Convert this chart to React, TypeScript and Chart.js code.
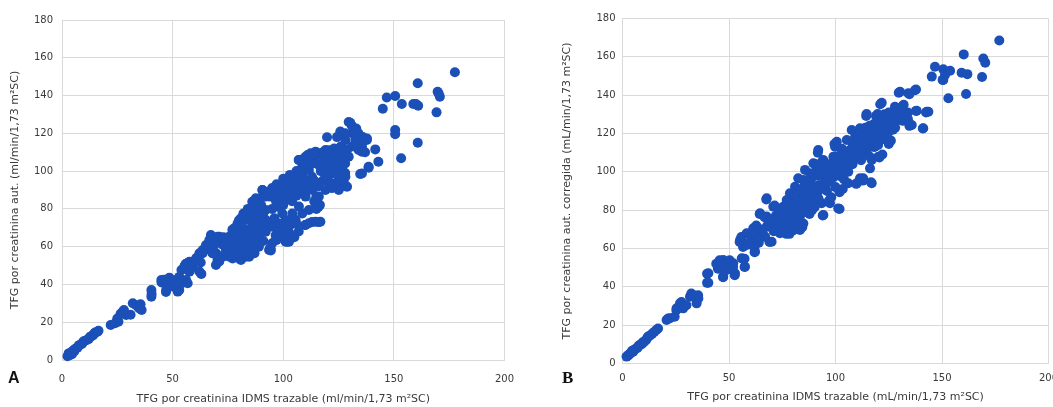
import React, { useEffect, useRef } from "react";
import { Chart, registerables } from "chart.js";

Chart.register(...registerables);

// ---------- DATA ----------
const xTickValues = [0, 50, 100, 150, 200];
const yTickValues = [0, 20, 40, 60, 80, 100, 120, 140, 160, 180];

const titleXA = "TFG por creatinina IDMS trazable (ml/min/1,73 m²SC)";
const titleYA = "TFG por creatinina aut. (ml/min/1,73 m²SC)";
const titleXB = "TFG por creatinina IDMS trazable (mL/min/1,73 m²SC)";
const titleYB = "TFG por creatinina aut. corregida (mL/min/1,73 m²SC)";

// Panel A: x = TFG IDMS trazable, y = TFG creatinina aut.
const xA = [
  2.5, 3, 3.5, 4, 4.5, 5, 5.5, 6, 7, 7.5, 8, 9, 9.5, 10, 11, 12, 12.5, 13, 14, 14.5, 15, 16, 16.5,
  22, 24, 25.5, 26.5, 27.5, 29, 31, 25, 28,
  32, 33.5, 35, 36, 34.5, 35.5,
  40.4, 40.4, 40.5,
  45, 46, 47.5, 47, 49.5, 51.5, 53, 54, 53, 51, 48.5,
  44.9, 47.1, 48.6, 51.6, 53.1, 56.1, 47.1, 52.3, 56.8, 55.3, 57.6, 59.1, 57.6, 60.6, 62.1, 62.8,
  56, 54, 55.5, 57, 59, 60.7, 62, 62.7, 62, 63,
  63.6, 65.1, 67.3, 71.1, 72.6, 69.6, 68.1, 70.3, 69.6, 74.1, 77.1, 80.9, 84.6, 77.1, 80.1, 83.1,
  86.1, 84.6, 85.3, 82.4,
  66, 69.7, 71, 67.4, 72.7, 75.7, 78.6, 80,
  107.1, 110.1, 112.35, 114.6, 116.85, 119.1, 122.1, 125.1, 126.6, 128.1, 131.1, 133.35, 135.6,
  137.85, 132.6, 134.1, 135.6, 128.1, 125.1, 122.1, 116.1, 113.1, 111.6, 108.6, 105.6, 102.6,
  99.6, 98.1, 95.1, 92.1, 90.6, 88.35, 86.85, 84.6, 83.1, 80.85, 79.35, 77.85, 77.1, 75.6, 74.85,
  74.1, 72.6, 71.1, 68.1, 65.1, 63.6, 66.6, 70.35, 68.85, 73.35, 78.6, 81.6, 84.6, 83.1, 80.1,
  77.1, 86.1, 89.1, 92.1, 95.1, 98.1, 101.1, 104.1, 107.1, 110.1, 113.1, 116.1, 119.1, 122.1,
  125.1, 128.1, 128.85, 125.1, 122.1, 119.1, 116.1, 114.6, 111.6, 108.6, 105.6, 102.6, 99.6,
  96.6, 101.1, 93.6, 98.1, 101.1, 104.1, 107.1, 110.1, 92.1, 89.1, 86.1, 83.1, 96.6, 99.6,
  102.6, 105.6, 108.6, 92.1, 89.1, 86.1, 80.1,
  77, 80, 82, 84, 86, 87.6, 90.6, 92, 94, 83, 86, 89, 84.6, 87, 84, 89, 92, 94.4, 95, 97, 98,
  101, 102, 102.6, 99.6, 98, 96.6, 98.9, 101, 102.6, 105, 107, 108.6, 110, 108, 111, 114, 116,
  118, 120.6, 123, 125, 126, 126.6, 128, 128, 125, 122, 120.6, 118, 116, 115, 116.6, 116, 113,
  110, 102.6, 96.6, 94,
  117, 119, 121, 113, 114, 115, 104, 106, 103,
  119.8, 130.3, 129.6, 131, 133, 134, 136, 137.8, 135.6, 137, 132.6, 131, 128, 125.8, 124.3, 126,
  128.8, 129.6, 128,
  141.6, 143, 138.6, 134.8, 116, 114.6, 111.6, 110, 116.8, 101.8, 94.3, 90.6, 107, 128, 125, 122,
  177.6, 160.8, 169.8, 170.8, 170.3, 169.3, 158.8, 161, 160, 153.6, 150.6, 146.8, 145, 150.6,
  150.6, 160.8, 153.3, 138.6, 135.6,
  95, 97, 100, 103, 105, 108, 111, 113, 100, 104, 106, 109, 112, 114, 117, 119, 121, 123, 124,
  122, 118, 112, 109, 106, 103, 100, 97, 95, 93, 90, 88, 86, 91, 93, 96, 99, 105, 107, 100, 91,
  89, 87, 80, 76, 73, 78, 82, 85, 88, 81, 79, 90,
];
const yA = [
  2, 3.5, 2.5, 4, 3, 5, 4.5, 6, 6.5, 7.5, 8, 8.5, 9.5, 10, 10.5, 11, 12, 12.5, 13, 14, 14.5, 15, 15.5,
  18.5, 19.5, 20.3, 24.5, 25.6, 23.8, 24, 22, 26.5,
  30, 29, 27.3, 26.5, 28, 29.5,
  37, 33.5, 35,
  41, 42.5, 41, 36, 39, 41, 44, 40.5, 37, 38.5, 43.5,
  42.4, 40.6, 43.3, 42.4, 41.4, 42.4, 37.1, 36.2, 40.6, 49.4, 46.7, 49.4, 52, 52.9, 56.5, 45.8,
  51, 47.6, 50, 51.5, 52, 54, 55, 51.6, 47, 45.5,
  58.2, 60.9, 66.2, 65.3, 61.8, 61.8, 56.5, 52.9, 50.3, 56.5, 54.7, 52.9, 54.7, 61.8, 67.1, 74.1,
  79.4, 68.8, 60, 57.3,
  59, 56.5, 53, 58, 61, 54.7, 58, 61.8,
  105.9, 107.6, 109.4, 110.3, 109.4, 111.2, 109.4, 111.2, 112.9, 116.5, 120, 118.2, 116.5,
  117.3, 112.9, 111.2, 110.3, 107.6, 105.9, 104.1, 103.2, 104.1, 100.6, 98.8, 96.2, 95.3,
  93.5, 91.7, 90, 88.2, 86.5, 83.8, 82.1, 79.4, 77.6, 75, 72.3, 69.7, 67, 65.3, 61.8,
  58.2, 54.7, 52.1, 56.5, 60, 56.5, 63.5, 65.3, 60.9, 63.5, 61.8, 60, 58.2, 54.7, 53.8,
  53.8, 62.6, 65.3, 67.9, 70.6, 72.3, 74.1, 77.6, 81.2, 86.5, 90, 93.5, 97, 98.8,
  99.7, 97, 91.7, 90, 93.5, 90, 86.5, 82.9, 79.4, 77.6, 74.1, 70.6, 67,
  63.5, 62.6, 58.2, 81.2, 84.7, 88.2, 91.7, 94.4, 79.4, 75.9, 72.3, 68.8, 88.2, 88.2,
  91.7, 97, 102.3, 74.1, 70.6, 67, 66.2,
  69, 74, 77.6, 80, 83.8, 85.6, 90, 86.5, 86.5, 67, 70.6, 72, 59, 56.5, 55, 67, 69, 58, 61.8, 63.5, 67,
  63.5, 69, 72, 77.6, 81, 84.7, 89, 91.8, 94.4, 95, 97, 98.8, 101.5, 106, 108.5, 107.6, 109,
  110, 111, 112, 110, 106, 102, 99, 92, 91, 91, 94.4, 95, 92, 86.5, 82, 73, 73,
  71.5, 62.6, 66, 59,
  104, 106, 103, 104, 84, 80, 75, 72, 67,
  117.9, 125.6, 126, 124, 122.6, 120, 118, 116.5, 113, 110, 116.5, 113, 120, 121, 118, 113,
  111, 107.6, 104,
  111.5, 105, 102.3, 98.5, 81.2, 73.2, 72.4, 71.5, 73.2, 62.6, 59.1, 90, 105.9, 92.6, 95.3, 91.7,
  152.3, 146.5, 142, 139.4, 141, 131.1, 135.5, 134.6, 135.5, 135.5, 139.8, 139, 133, 121.8,
  119.5, 115, 106.8, 101.8, 98.8,
  80, 83, 86, 88, 90, 93, 95, 97, 82, 84, 87, 89, 92, 95, 100, 100, 100, 102, 105,
  106, 108, 105, 103, 100, 98, 96, 93, 91, 89, 82, 78, 75, 76, 73, 75, 71, 65, 68, 66, 63,
  60, 62, 57, 60, 65, 65, 63, 65, 69, 71, 69, 79,
];

// Panel B: x = TFG IDMS trazable, y = TFG creatinina aut. corregida
const xB = [
  1.9, 2.5, 3, 3.5, 4, 5, 5.5, 6, 7, 7.5, 8, 9, 10, 11, 11.5, 12, 13, 14, 15, 16, 16.7, 4.5, 9.5,
  20.7, 22.3, 21.4, 25.4, 27, 28.5, 24.5, 25.3, 26.9, 27.7, 30, 31.7, 33.2, 35.6, 34.8, 32.3, 35.5,
  39.7, 39.7, 40.3, 40.3,
  47.3, 45.8, 48.9, 52.8, 52, 56, 57.5, 47.3, 44, 44.8, 46.4, 47.2, 45.6, 50.3, 48.8, 51.9, 52.7,
  57.3, 57.3,
  61.4, 58.3, 55.2, 60.7, 62.2, 58.3, 59, 58.1, 56.6, 55, 55.8, 62,
  64.6, 67.7, 70.8, 72.4, 69.2, 73.9, 77.1, 80.2, 75.5, 78.6, 83.3, 84.1, 83.3, 70, 67.7, 67.5,
  71.4, 64.4, 66.7, 62.8, 64.4, 65.9, 69, 75.3, 76.9, 80, 78.4, 83, 84.4, 87.8, 90.2,
  97.4, 93.5, 90.4, 88, 84.9, 82.5, 81, 78.6, 77.1, 75.5, 80.2, 83.3, 86.5, 89.6, 93.5, 97.4,
  101.3, 94.3, 83.3, 84.9, 78.6, 76.3, 74.7,
  94.3, 89.6, 91.2, 88, 85.7, 95.9, 100.6, 102.9, 91.9,
  105.3, 106.8, 102.9, 104.5, 101.3, 99, 99.8, 100.6,
  110, 114.6, 118.5, 120.1, 117, 116.2, 113, 117, 110, 111.5,
  111.5, 113.8, 116.2, 107.6, 109.2,
  125.6, 124, 127.1, 122.4, 127.9, 126.4,
  142.8, 138.1, 141.2, 135.8, 133.4, 132.6,
  121.7, 114.6, 119.8,
  137.8, 134.2, 130.3,
  146.7, 145.2, 150.6, 153.8, 150.6, 159.2, 161.9, 161.3, 153, 151.4, 150.3,
  176.9, 160.2, 169.4, 170.3, 168.8,
  109.7, 112.8, 116.7, 101.9, 101.9, 103.4, 99.5, 91.7, 94, 91, 94, 97, 98,
  125, 126, 122, 120.6, 131.6, 134, 134, 134.7, 137.3, 134.7, 129.7, 121, 119, 114.4, 137.8, 141,
  142.5, 143.6, 131.1,
  100, 102, 104, 106, 108, 110, 112, 113, 115, 116, 118, 119, 120, 121, 122, 123, 124, 125, 126,
  127, 128, 129, 130, 131, 132, 128, 126, 124, 122, 120, 118, 116, 114, 112, 110, 108, 106, 104,
  102, 100, 98, 96,
  82, 85, 88, 90, 93, 95, 98, 100, 86, 90, 84, 88, 92, 96, 80, 78, 83,
  86, 88, 90, 92, 95, 97, 99, 101, 103, 105, 107, 109, 111, 113, 115, 117, 119, 121, 123, 125,
  127, 129, 131, 128, 104, 106, 100, 96, 92, 89, 86, 82, 80, 76, 73, 71, 68, 66, 63, 60, 62, 64,
  67, 69, 72, 74, 77, 80, 82, 84, 87, 89, 92, 94, 97, 100, 103, 106, 108, 110, 112, 114, 116,
  118, 120, 123, 125,
];
const yB = [
  3.5, 4, 4.5, 5, 5.5, 6, 7, 7.5, 8, 9, 9.5, 10, 11, 12, 13, 14, 14.5, 15.5, 16.5, 17.5, 18.2, 6.5, 11,
  22.6, 23.5, 23.4, 28.7, 31.3, 28.7, 24.3, 27.7, 29.5, 32, 30.3, 34.8, 35.7, 33.9, 31.3, 36.4, 35.5,
  46.8, 42, 47, 42.1,
  53.9, 50.4, 48.7, 47, 52.2, 54.8, 50.4, 45.2, 52, 49.4, 50.3, 45, 53.8, 53.8, 52, 50.3, 46,
  54.6, 50.3,
  70.5, 67.9, 64.4, 64.4, 58.3, 61.8, 67.6, 62.4, 60.7, 63.3, 65.9, 58,
  78.3, 76.6, 81.8, 73.1, 71.3, 67.9, 71.3, 69.6, 76.6, 83.6, 80, 73.1, 69.6, 63.5, 86.2, 85.5,
  82.4, 78, 76.3, 72, 69.4, 67.6, 63.3, 69.4, 67.6, 69.4, 67.6, 73.7, 71.1, 78, 81.5,
  95.7, 93.1, 92.2, 94, 95.7, 96.6, 92.2, 88.8, 85.3, 81.8, 85.3, 87, 88.8, 85.3, 83.6, 83.6,
  80.9, 77.4, 76.6, 73, 71.3, 69.6, 76.6,
  106.2, 104.4, 101, 99.2, 101, 101, 101, 97.4, 111.4,
  116.6, 111.4, 109.7, 106.2, 106.2, 107.9, 113.1, 115.7,
  114, 115.7, 113.1, 107.9, 106.2, 101.8, 96.6, 94, 94, 96.6,
  122.7, 119.2, 120.9, 121.8, 118.3,
  116.6, 121.8, 126.2, 127, 134, 130.5,
  131.4, 131.9, 122.7, 124.4, 127, 129.7,
  136, 130.2, 130.2,
  143, 141, 141.8,
  154.9, 149.7, 153.5, 152.8, 148, 151.7, 151, 140.6, 138.4, 150.6, 148,
  168.6, 161.3, 159.2, 157, 149.5,
  93.7, 95.4, 94.5, 80.6, 89.3, 91, 114.5, 110, 105.8, 104, 77.2, 85, 86.7,
  114.5, 116.2, 109, 107.5, 126.6, 131, 127.5, 124, 142.6, 140.5, 141.3, 135.3, 129.2, 129.2, 131.8, 122.6,
  131, 131.4, 134,
  98, 100, 102, 100, 104, 108, 106, 110, 112, 108, 113, 116, 114, 118, 117, 120, 118, 121, 124,
  122, 126, 128, 130, 133, 135, 131, 128, 126, 125, 123, 120, 118, 116, 114, 112, 110, 108, 106,
  104, 102, 100, 98,
  90, 92, 95, 98, 100, 102, 104, 105, 86, 88, 82, 84, 90, 94, 78, 75, 80,
  82, 86, 90, 93, 97, 99, 97, 99, 100, 103, 105, 107, 109, 112, 114, 116, 118, 120, 122, 125,
  127, 131, 129, 123, 96, 94, 92, 90, 86, 80, 79, 78, 74, 73, 70, 69, 72, 70, 66, 62, 61, 63,
  66, 74, 77, 79, 80, 82, 84, 90, 92, 97, 98, 102, 104, 108, 112, 110, 115, 118, 120, 123, 124,
  125, 127, 130, 131,
];

// ---------- CHART ----------
const FONT = "'DejaVu Sans', sans-serif";
const DOT = "#1b50b8";
const GRID = "#d9d9d9";
const TXT = "#3a3a3a";

type PanelCfg = {
  xs: number[];
  ys: number[];
  titleX: string;
  titleY: string;
  padTop: number;
  padRight: number;
  yWidth: number;
  xHeight: number;
  yTitlePad: number;
  xTitlePad: number;
  yTickPad: number;
  xTickPad: number;
};

function buildChart(canvas: HTMLCanvasElement, cfg: PanelCfg) {
  const points = cfg.xs.map((x, i) => ({ x, y: cfg.ys[i] }));
  return new Chart(canvas, {
    type: "scatter",
    data: {
      datasets: [
        {
          data: points,
          backgroundColor: DOT,
          borderColor: DOT,
          borderWidth: 0,
          pointRadius: 5,
          pointHoverRadius: 5,
          clip: false as any,
        },
      ],
    },
    options: {
      animation: false,
      responsive: false,
      maintainAspectRatio: false,
      events: [],
      layout: { padding: { left: 0, top: cfg.padTop, right: cfg.padRight, bottom: 0 } },
      plugins: { legend: { display: false }, tooltip: { enabled: false } },
      scales: {
        x: {
          type: "linear",
          min: 0,
          max: 200,
          afterBuildTicks: (s: any) => {
            s.ticks = xTickValues.map((v) => ({ value: v }));
          },
          afterFit: (s: any) => {
            s.height = cfg.xHeight;
          },
          grid: { color: GRID, lineWidth: 1, drawTicks: false },
          border: { color: GRID, width: 1 },
          ticks: {
            color: TXT,
            font: { family: FONT, size: 10 },
            padding: cfg.xTickPad,
            maxRotation: 0,
          },
          title: {
            display: true,
            text: cfg.titleX,
            color: TXT,
            font: { family: FONT, size: 11 },
            padding: { top: 0, bottom: cfg.xTitlePad },
          },
        },
        y: {
          type: "linear",
          min: 0,
          max: 180,
          afterBuildTicks: (s: any) => {
            s.ticks = yTickValues.map((v) => ({ value: v }));
          },
          afterFit: (s: any) => {
            s.width = cfg.yWidth;
          },
          grid: { color: GRID, lineWidth: 1, drawTicks: false },
          border: { color: GRID, width: 1 },
          ticks: {
            color: TXT,
            font: { family: FONT, size: 10 },
            padding: cfg.yTickPad,
          },
          title: {
            display: true,
            text: cfg.titleY,
            color: TXT,
            font: { family: FONT, size: 11 },
            padding: { top: cfg.yTitlePad, bottom: 0 },
          },
        },
      },
    },
  } as any);
}

export default function App() {
  const refA = useRef<HTMLCanvasElement>(null);
  const refB = useRef<HTMLCanvasElement>(null);

  useEffect(() => {
    const cA = buildChart(refA.current!, {
      xs: xA,
      ys: yA,
      titleX: titleXA,
      titleY: titleYA,
      padTop: 20,
      padRight: 20.5,
      yWidth: 62,
      xHeight: 47,
      yTitlePad: 9,
      xTitlePad: 1.5,
      yTickPad: 9,
      xTickPad: 13,
    });
    const cB = buildChart(refB.current!, {
      xs: xB,
      ys: yB,
      titleX: titleXB,
      titleY: titleYB,
      padTop: 18.6,
      padRight: 18.5,
      yWidth: 95.5,
      xHeight: 43.7,
      yTitlePad: 34,
      xTitlePad: 3,
      yTickPad: 7,
      xTickPad: 8.7,
    });
    return () => {
      cA.destroy();
      cB.destroy();
    };
  }, []);

  return (
    <div
      style={{
        position: "absolute",
        left: 0,
        top: 0,
        width: 1053,
        height: 407,
        overflow: "hidden",
        background: "#fff",
      }}
    >
      <canvas
        ref={refA}
        width={527}
        height={407}
        style={{ position: "absolute", left: 0, top: 0, width: 527, height: 407 }}
      />
      <canvas
        ref={refB}
        width={540}
        height={407}
        style={{ position: "absolute", left: 527, top: 0, width: 540, height: 407 }}
      />
      <div
        style={{
          position: "absolute",
          left: 8,
          top: 370,
          fontFamily: "'Liberation Sans', Arial, sans-serif",
          fontWeight: "bold",
          fontSize: 16,
          lineHeight: "16px",
          color: "#111",
        }}
      >
        A
      </div>
      <div
        style={{
          position: "absolute",
          left: 562,
          top: 369,
          fontFamily: "'Liberation Serif', 'Times New Roman', serif",
          fontWeight: "bold",
          fontSize: 17,
          lineHeight: "17px",
          color: "#111",
        }}
      >
        B
      </div>
    </div>
  );
}
